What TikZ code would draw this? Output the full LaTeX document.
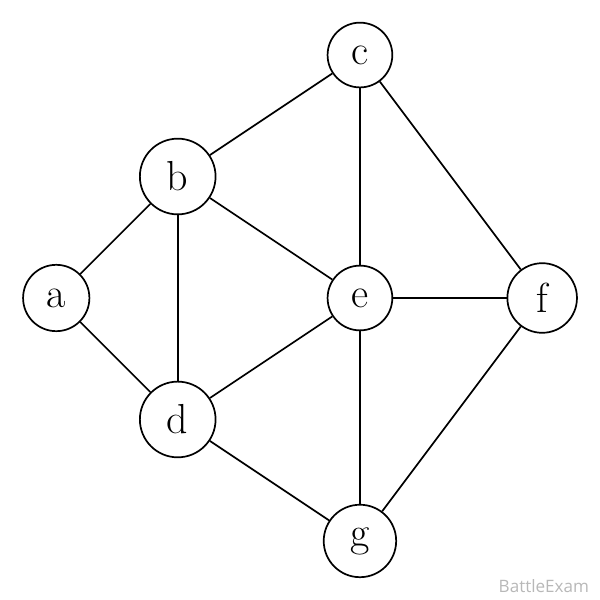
\documentclass[tikz,border=0pt]{standalone}
\usepackage{fontspec}
\newfontfamily\wmfont{Open Sans}
\begin{document}
\begin{tikzpicture}[scale=3, line width=1.2pt, every node/.style={circle, draw, fill=white, inner sep=9.8pt, font=\fontsize{29.5}{34}\selectfont}]
                    \useasboundingbox (-2.963,-2.486) rectangle (1.975,2.453);
                    \node (a) at (-2.5,0) {a};
                    \node (b) at (-1.5,1) {b};
                    \node (c) at (0,2) {c};
                    \node (d) at (-1.5,-1) {d};
                    \node (e) at (0,0) {e};
                    \node (f) at (1.5,0) {f};
                    \node (g) at (0,-2) {g};
                    \node[draw=none, fill=none, rectangle, inner sep=0pt, anchor=base east, text=black!28, font=\wmfont\fontsize{12}{14}\selectfont] (wm) at (1.893,-2.428) {BattleExam};
                    \draw (a) -- (b);
                    \draw (a) -- (d);
                    \draw (b) -- (c);
                    \draw (b) -- (e);
                    \draw (b) -- (d);
                    \draw (c) -- (e);
                    \draw (c) -- (f);
                    \draw (d) -- (e);
                    \draw (d) -- (g);
                    \draw[line width=1.8pt] (e) -- (f);
                    \draw (e) -- (g);
                    \draw (f) -- (g);
                \end{tikzpicture}
\end{document}
